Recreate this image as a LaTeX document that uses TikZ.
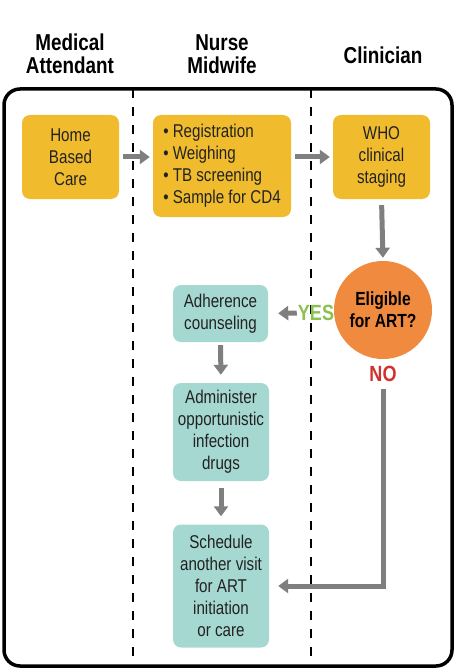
\documentclass[tikz,border=0pt]{standalone}
\usepackage{fontspec}
\setmainfont{Liberation Sans}[FakeStretch=0.82]
\usetikzlibrary{arrows.meta,calc}
\definecolor{boxyellow}{HTML}{F0BC2E}
\definecolor{boxteal}{HTML}{A6D8D2}
\definecolor{circorange}{HTML}{F08A3E}
\definecolor{arrowgray}{HTML}{7F7F7F}
\definecolor{yesgreen}{HTML}{8CC152}
\definecolor{nored}{HTML}{D0312D}
\definecolor{txt}{HTML}{222222}
\tikzset{
  hdr/.style={font=\fontsize{23}{23}\selectfont\bfseries, align=center, text=black},
  ybox/.style={fill=boxyellow, rounded corners=8pt, align=center, text=txt,
    font=\fontsize{18.5}{22}\selectfont, inner sep=0pt},
  tbox/.style={fill=boxteal, rounded corners=8pt, align=center, text=txt,
    font=\fontsize{18.5}{22}\selectfont, inner sep=0pt},
  flow/.style={draw=arrowgray, line width=5pt, -{Triangle[width=14pt,length=10pt]}},
  lane/.style={draw=black, line width=2.6pt, dash pattern=on 9pt off 9pt},
  frame/.style={draw=black, line width=3.5pt, rounded corners=16pt},
}
\begin{document}
\begin{tikzpicture}[x=1pt,y=-1pt]
\useasboundingbox (0,0) rectangle (456,671);
% headers
\node[hdr] (h1) at (70,54) {Medical\\Attendant};
\node[hdr] (h2) at (222,54) {Nurse\\Midwife};
\node[hdr] (h3) at (383,55) {Clinician};
% frame and lanes
\draw[frame] (4,89) rectangle (452,666);
\coordinate (l1t) at (133,89);
\coordinate (l1b) at (133,666);
\coordinate (l2t) at (311,89);
\coordinate (l2b) at (311,666);
\draw[lane] (l1t) -- (l1b);
\draw[lane] (l2t) -- (l2b);
% top row
\node[ybox, minimum width=97pt, minimum height=84pt] (home) at (70.5,157) {Home\\Based\\Care};
\node[ybox, minimum width=138pt, minimum height=102pt, align=left] (reg) at (222,166)
  {• Registration\\• Weighing\\• TB screening\\• Sample for CD4};
\node[ybox, minimum width=97pt, minimum height=84pt] (who) at (381.5,157) {WHO\\clinical\\staging};
% decision
\node[circle, fill=circorange, minimum size=98pt, inner sep=0pt, align=center,
  font=\fontsize{19}{22}\selectfont\bfseries, text=black] (elig) at (383,310) {Eligible\\for ART?};
\node[font=\fontsize{22}{22}\selectfont\bfseries, text=yesgreen, inner sep=1pt] (yes) at (316,313) {YES};
\node[font=\fontsize{22}{22}\selectfont\bfseries, text=nored, inner sep=1pt] (no) at (383,374) {NO};
% teal boxes
\node[tbox, minimum width=95pt, minimum height=57pt] (adh) at (220.5,313.5) {Adherence\\counseling};
\node[tbox, minimum width=96pt, minimum height=98pt] (adm) at (221,432) {Administer\\opportunistic\\infection\\drugs};
\node[tbox, minimum width=96pt, minimum height=123pt] (sch) at (221,586) {Schedule\\another visit\\for ART\\initiation\\or care};
% connectors
\draw[flow, shorten <=4pt, shorten >=3pt] (home.east) -- (home.east -| reg.west);
\draw[flow, shorten <=4pt, shorten >=3pt] (reg.east |- home.east) -- (who.west);
\draw[flow, shorten <=6pt, shorten >=3pt] (who.south) -- (elig.north);
\draw[flow, shorten >=10pt] (yes.west) -- (adh.east);
\draw[flow, shorten <=3pt, shorten >=8pt] (adh.south) -- (adm.north);
\draw[flow, shorten <=7pt, shorten >=8pt] (adm.south) -- (sch.north);
\draw[flow, shorten <=6pt, shorten >=9pt] (no.south) |- (sch.east);
\end{tikzpicture}
\end{document}
